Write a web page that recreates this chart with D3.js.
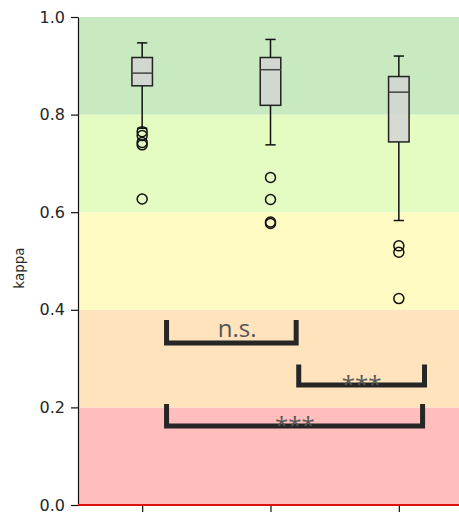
<!doctype html>
<html>
    <head>
        <script src="https://d3js.org/d3.v7.min.js"></script>
        <style>
            body { margin: 0; background: #fff; }
            .tick text { font-family: "DejaVu Sans", sans-serif; font-size: 16px; fill: #262626; }
        </style>
    </head>
    <body>
        <svg id="chart" width="459" height="515"></svg>

        <script>
            // box statistics, one entry per group
            var positions   = [1, 2, 3];
            var whiskerHigh = [0.947, 0.954, 0.920];
            var q3          = [0.917, 0.917, 0.878];
            var medians     = [0.885, 0.892, 0.846];
            var q1          = [0.859, 0.819, 0.744];
            var whiskerLow  = [0.772, 0.738, 0.583];
            var outliers    = [
                [0.765, 0.757, 0.743, 0.738, 0.627],
                [0.671, 0.626, 0.580, 0.577],
                [0.531, 0.518, 0.423]
            ];

            // agreement bands (kappa ranges)
            var bandLow    = [0.0, 0.2, 0.4, 0.6, 0.8];
            var bandHigh   = [0.2, 0.4, 0.6, 0.8, 1.0];
            var bandColors = ["#ffbdbd", "#ffe3bd", "#fffbc2", "#e4fcc2", "#c9e9c1"];

            // significance brackets
            var brX1     = [1.19, 2.22, 1.19];
            var brX2     = [2.20, 3.20, 3.185];
            var brTop    = [0.379, 0.288, 0.207];
            var brBottom = [0.332, 0.246, 0.162];
            var brLabels = ["n.s.", "***", "***"];
            var brLabelX = [1.74, 2.71, 2.19];
            var brLabelY = [0.344, 0.230, 0.146];

            var yTicks = [0.0, 0.2, 0.4, 0.6, 0.8, 1.0];

            var svg = d3.select("#chart");
            var xScale = d3.scaleLinear().domain([0.5, 3.5]).range([78, 463]);
            var yScale = d3.scaleLinear().domain([0, 1]).range([505, 17]);
            var boxW = 0.16, capW = 0.08;

            // background bands
            svg.selectAll("rect.band")
                .data(bandLow)
                .enter()
                .append("rect")
                    .attr("class", "band")
                    .attr("x", xScale(0.5))
                    .attr("width", xScale(3.5) - xScale(0.5))
                    .attr("y", (d, i) => yScale(bandHigh[i]))
                    .attr("height", (d, i) => yScale(d) - yScale(bandHigh[i]))
                    .style("fill", (d, i) => bandColors[i]);

            // boxes
            var boxes = svg.selectAll("g.box")
                .data(positions)
                .enter()
                .append("g")
                    .attr("class", "box");

            boxes.append("line")
                .attr("x1", d => xScale(d)).attr("x2", d => xScale(d))
                .attr("y1", (d, i) => yScale(q3[i])).attr("y2", (d, i) => yScale(whiskerHigh[i]))
                .style("stroke", "#111").style("stroke-width", 1.5);
            boxes.append("line")
                .attr("x1", d => xScale(d)).attr("x2", d => xScale(d))
                .attr("y1", (d, i) => yScale(q1[i])).attr("y2", (d, i) => yScale(whiskerLow[i]))
                .style("stroke", "#111").style("stroke-width", 1.5);
            boxes.append("line")
                .attr("x1", d => xScale(d - capW / 2)).attr("x2", d => xScale(d + capW / 2))
                .attr("y1", (d, i) => yScale(whiskerHigh[i])).attr("y2", (d, i) => yScale(whiskerHigh[i]))
                .style("stroke", "#111").style("stroke-width", 1.5);
            boxes.append("line")
                .attr("x1", d => xScale(d - capW / 2)).attr("x2", d => xScale(d + capW / 2))
                .attr("y1", (d, i) => yScale(whiskerLow[i])).attr("y2", (d, i) => yScale(whiskerLow[i]))
                .style("stroke", "#111").style("stroke-width", 1.5);

            boxes.append("rect")
                .attr("x", d => xScale(d - boxW / 2))
                .attr("width", xScale(boxW) - xScale(0))
                .attr("y", (d, i) => yScale(q3[i]))
                .attr("height", (d, i) => yScale(q1[i]) - yScale(q3[i]))
                .style("fill", "#d3d3d3").style("fill-opacity", 0.85)
                .style("stroke", "#222").style("stroke-width", 1.5);

            boxes.append("line")
                .attr("x1", d => xScale(d - boxW / 2)).attr("x2", d => xScale(d + boxW / 2))
                .attr("y1", (d, i) => yScale(medians[i])).attr("y2", (d, i) => yScale(medians[i]))
                .style("stroke", "#444").style("stroke-width", 1.5);

            boxes.each(function(p, i) {
                d3.select(this).selectAll("circle")
                    .data(outliers[i])
                    .enter()
                    .append("circle")
                        .attr("cx", xScale(p))
                        .attr("cy", d => yScale(d))
                        .attr("r", 5)
                        .style("fill", "none")
                        .style("stroke", "#111")
                        .style("stroke-width", 1.5);
            });

            // axes
            var yAxis = d3.axisLeft(yScale)
                .tickValues(yTicks)
                .tickFormat(d3.format(".1f"))
                .tickSize(7)
                .tickSizeOuter(0)
                .tickPadding(6);
            svg.append("g")
                .attr("transform", "translate(" + xScale(0.5) + ",0)")
                .call(yAxis)
                .call(g => g.selectAll("line, path").style("stroke", "#111").style("stroke-width", 1.2));

            var xAxis = d3.axisBottom(xScale)
                .tickValues(positions)
                .tickFormat("")
                .tickSize(7)
                .tickSizeOuter(0);
            svg.append("g")
                .attr("transform", "translate(0," + yScale(0) + ")")
                .call(xAxis)
                .call(g => g.selectAll("line, path").style("stroke", "#111").style("stroke-width", 1.2));

            // zero reference line
            svg.append("line")
                .attr("x1", xScale(0.5)).attr("x2", xScale(3.5))
                .attr("y1", yScale(0)).attr("y2", yScale(0))
                .style("stroke", "#e01010").style("stroke-width", 2);

            svg.append("text")
                .attr("transform", "translate(23.5,268) rotate(-90)")
                .attr("text-anchor", "middle")
                .style("font-family", "DejaVu Sans, sans-serif")
                .style("font-size", "13.5px")
                .style("fill", "#262626")
                .text("kappa");

            // significance brackets
            svg.selectAll("path.bracket")
                .data(brLabels)
                .enter()
                .append("path")
                    .attr("class", "bracket")
                    .attr("d", (d, i) => d3.line()([
                        [xScale(brX1[i]), yScale(brTop[i])],
                        [xScale(brX1[i]), yScale(brBottom[i])],
                        [xScale(brX2[i]), yScale(brBottom[i])],
                        [xScale(brX2[i]), yScale(brTop[i])]
                    ]))
                    .style("fill", "none")
                    .style("stroke", "#262626")
                    .style("stroke-width", 5);

            svg.selectAll("text.sig")
                .data(brLabels)
                .enter()
                .append("text")
                    .attr("class", "sig")
                    .attr("x", (d, i) => xScale(brLabelX[i]))
                    .attr("y", (d, i) => yScale(brLabelY[i]))
                    .attr("text-anchor", "middle")
                    .style("font-family", "Open Sans, sans-serif")
                    .style("font-size", "24px")
                    .style("fill", "#555")
                    .text(d => d);
        </script>
    </body>
</html>
